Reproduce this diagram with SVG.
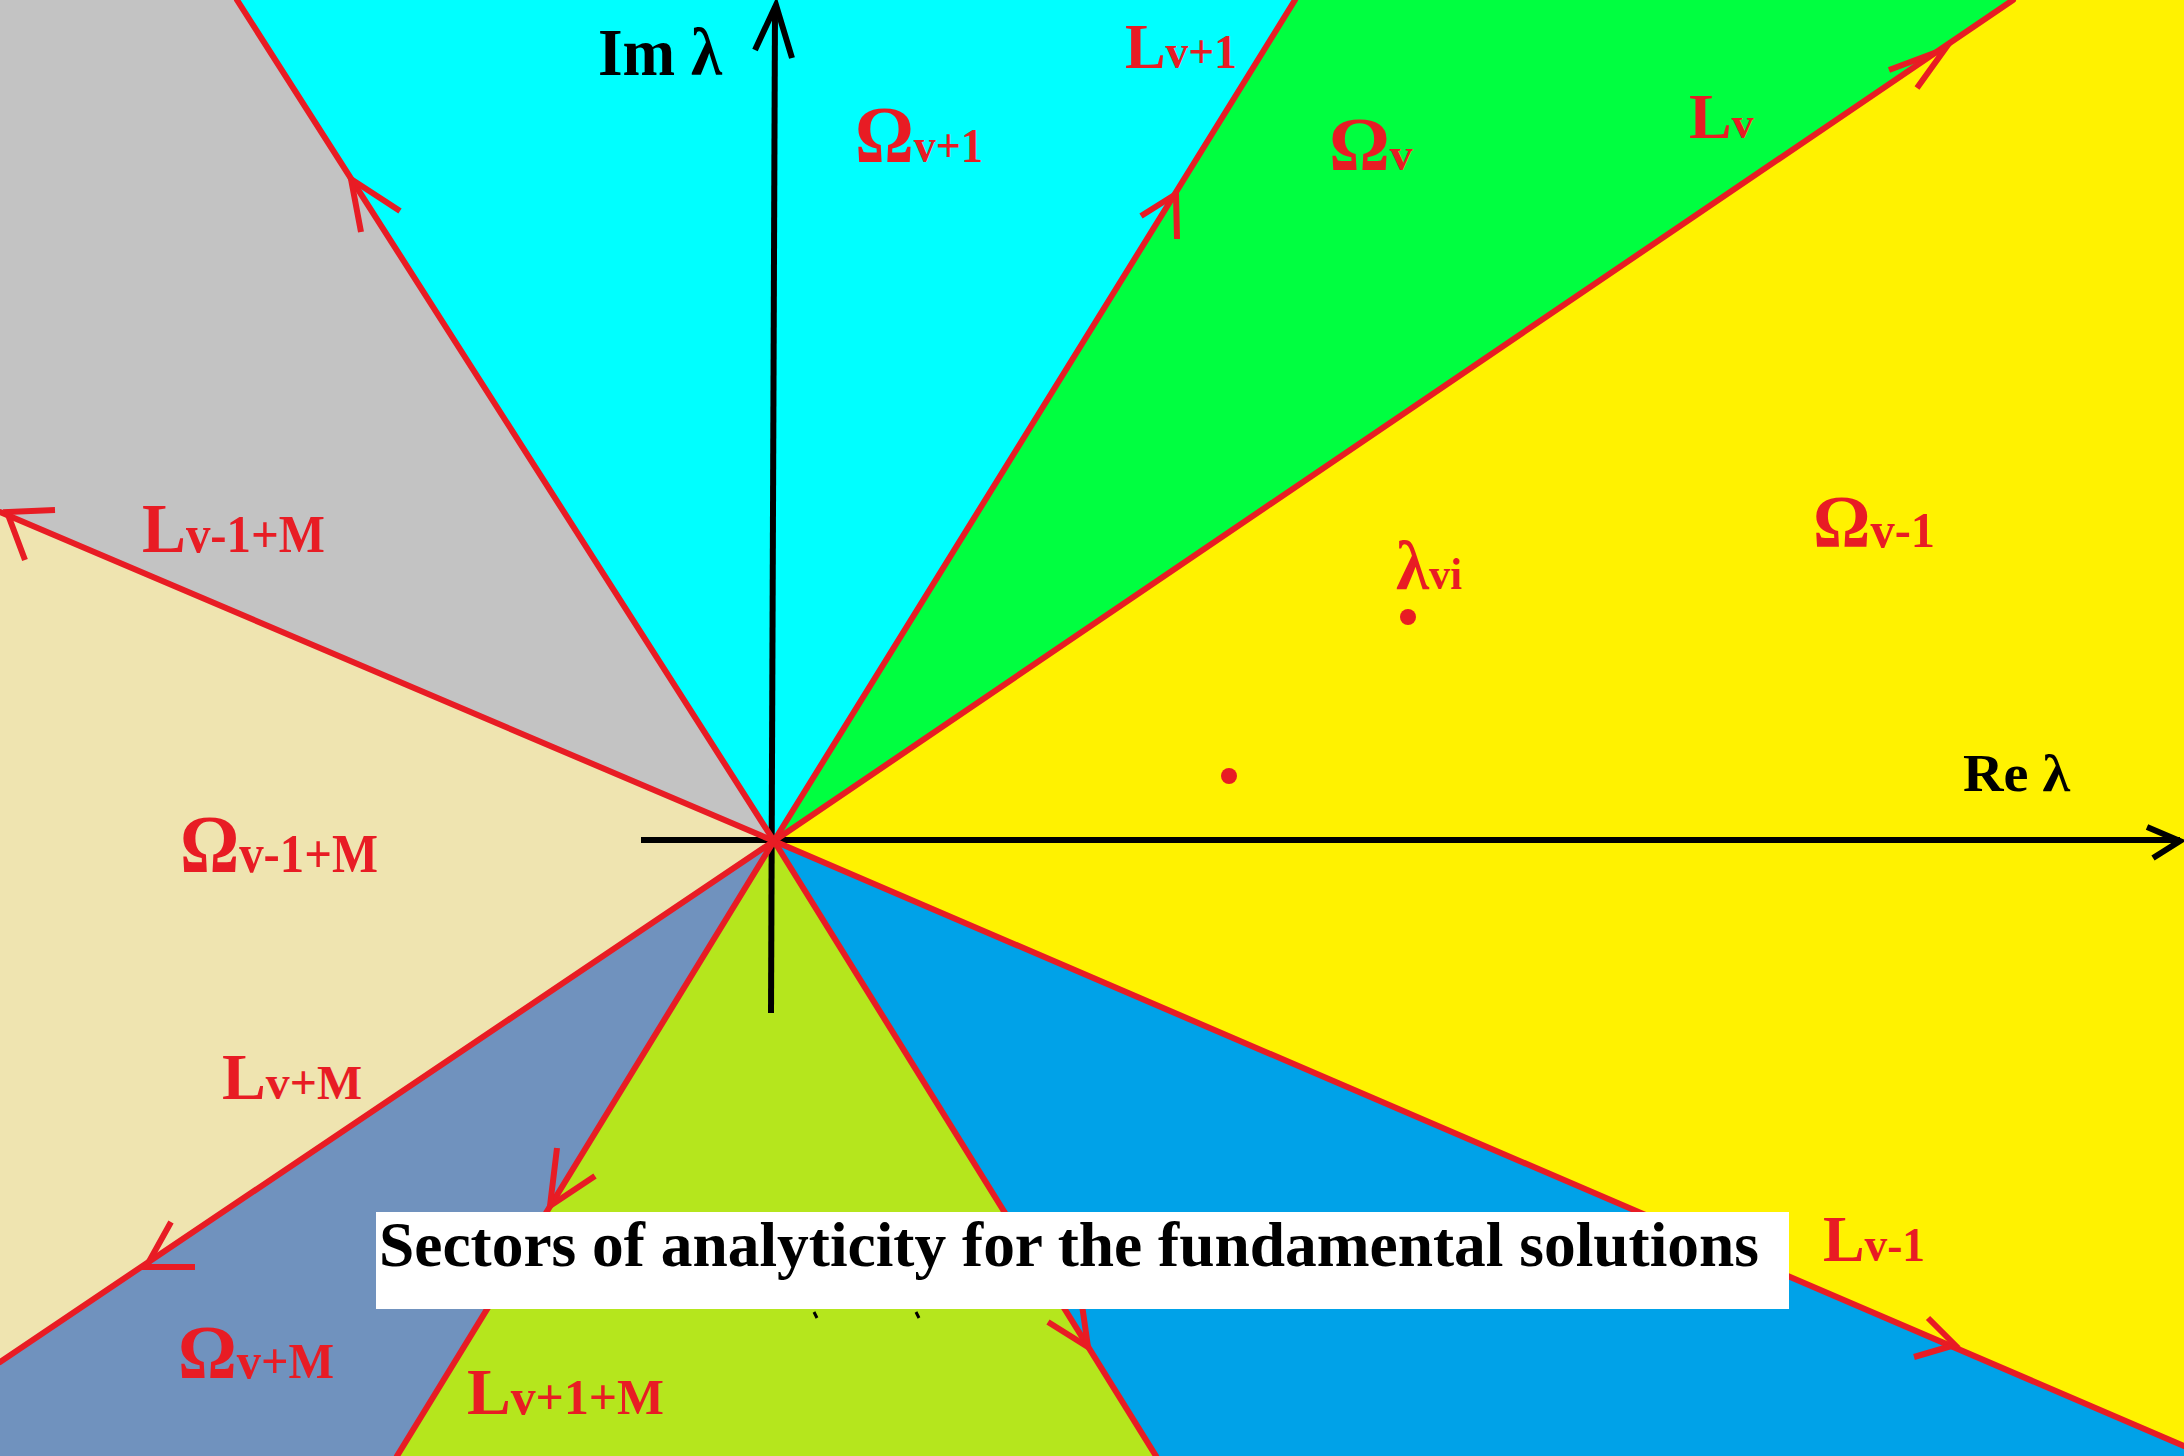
<svg xmlns="http://www.w3.org/2000/svg" width="2184" height="1456" viewBox="0 0 2184 1456">
<style>
.red{stroke:#E81C24;stroke-width:6;fill:none;stroke-linecap:round;stroke-linejoin:round}
.arr{stroke:#E81C24;stroke-width:6;fill:none;stroke-linecap:butt;stroke-linejoin:miter}
.axis{stroke:#000;stroke-width:6;fill:none;stroke-linejoin:miter}
.lbl{font-family:"Liberation Serif","Times New Roman",serif;font-weight:bold;fill:#E81C24}
.blk{font-family:"Liberation Serif","Times New Roman",serif;font-weight:bold;fill:#000}
</style>
<g id="sectors">
<polygon id="sector-gray" points="774,841 0,512 0,0 237,0" fill="#C3C3C3"/>
<polygon id="sector-cyan" points="774,841 237,0 1295,0" fill="#00FFFF"/>
<polygon id="sector-green" points="774,841 1295,0 2013,0" fill="#00FF40"/>
<polygon id="sector-yellow" points="774,841 2013,0 2184,0 2184,1446" fill="#FFF200"/>
<polygon id="sector-blue" points="774,841 2184,1446 2184,1456 1156,1456" fill="#00A2E8"/>
<polygon id="sector-lime" points="774,841 1156,1456 397,1456" fill="#B5E61D"/>
<polygon id="sector-grayblue" points="774,841 397,1456 0,1456 0,1362" fill="#7092BE"/>
<polygon id="sector-beige" points="774,841 0,1362 0,512" fill="#EFE4B0"/>
</g>
<g id="axes">
<line class="axis" x1="641" y1="840" x2="2180" y2="840"/>
<polyline class="axis" points="2147,827 2180,841 2153,858"/>
<line class="axis" x1="775" y1="6" x2="771" y2="1013"/>
<polyline class="axis" points="755,50 776,5 792,58"/>
</g>
<g id="connectors">
<line class="red" x1="774" y1="841" x2="0" y2="512"/>
<line class="red" x1="774" y1="841" x2="237" y2="0"/>
<line class="red" x1="774" y1="841" x2="1295" y2="0"/>
<line class="red" x1="774" y1="841" x2="2013" y2="0"/>
<line class="red" x1="774" y1="841" x2="2184" y2="1446"/>
<line class="red" x1="774" y1="841" x2="1156" y2="1456"/>
<line class="red" x1="774" y1="841" x2="397" y2="1456"/>
<line class="red" x1="774" y1="841" x2="0" y2="1362"/>
<polyline class="arr" points="55,510 7,512 25,560"/>
<polyline class="arr" points="400,211 351,179 361,232"/>
<polyline class="arr" points="1141,216 1176,194 1177,239"/>
<polyline class="arr" points="1889,70 1945,49 1917,88"/>
<polyline class="arr" points="1928,1318 1955,1345 1914,1357"/>
<polyline class="arr" points="1048,1322 1088,1347 1082,1305"/>
<polyline class="arr" points="557,1148 550,1206 595,1176"/>
<polyline class="arr" points="171,1222 146,1267 195,1267"/>
</g>
<g id="points">
<circle cx="1408" cy="617" r="8" fill="#E81C24"/>
<circle cx="1229" cy="776" r="8" fill="#E81C24"/>
</g>
<g id="axis-labels">
<text class="blk" x="598" y="75" font-size="68" textLength="124" lengthAdjust="spacingAndGlyphs">Im λ</text>
<text class="blk" x="1963" y="791" font-size="52" textLength="107" lengthAdjust="spacingAndGlyphs">Re λ</text>
</g>
<g id="labels">
<text id="omega-v1" class="lbl" x="855" y="162" textLength="128" lengthAdjust="spacingAndGlyphs"><tspan font-size="80">Ω</tspan><tspan font-size="48">v+1</tspan></text>
<text id="L-v1" class="lbl" x="1125" y="68" textLength="112" lengthAdjust="spacingAndGlyphs"><tspan font-size="64">L</tspan><tspan font-size="48">v+1</tspan></text>
<text id="omega-v" class="lbl" x="1329" y="170"><tspan font-size="76">Ω</tspan><tspan font-size="46">v</tspan></text>
<text id="L-v" class="lbl" x="1689" y="138"><tspan font-size="64">L</tspan><tspan font-size="44">v</tspan></text>
<text id="omega-vm1" class="lbl" x="1813" y="547" textLength="122" lengthAdjust="spacingAndGlyphs"><tspan font-size="74">Ω</tspan><tspan font-size="50">v-1</tspan></text>
<text id="lambda-vi" class="lbl" x="1396" y="589" textLength="66" lengthAdjust="spacingAndGlyphs"><tspan font-size="70">λ</tspan><tspan font-size="44">vi</tspan></text>
<text id="L-vm1M" class="lbl" x="142" y="552" textLength="183" lengthAdjust="spacingAndGlyphs"><tspan font-size="70">L</tspan><tspan font-size="52">v-1+M</tspan></text>
<text id="omega-vm1M" class="lbl" x="180" y="872" textLength="198" lengthAdjust="spacingAndGlyphs"><tspan font-size="82">Ω</tspan><tspan font-size="54">v-1+M</tspan></text>
<text id="L-vM" class="lbl" x="222" y="1099" textLength="140" lengthAdjust="spacingAndGlyphs"><tspan font-size="66">L</tspan><tspan font-size="48">v+M</tspan></text>
<text id="omega-vM" class="lbl" x="178" y="1378" textLength="156" lengthAdjust="spacingAndGlyphs"><tspan font-size="76">Ω</tspan><tspan font-size="50">v+M</tspan></text>
<text id="L-v1M" class="lbl" x="467" y="1414" textLength="197" lengthAdjust="spacingAndGlyphs"><tspan font-size="66">L</tspan><tspan font-size="50">v+1+M</tspan></text>
<text id="L-vm1" class="lbl" x="1823" y="1261" textLength="102" lengthAdjust="spacingAndGlyphs"><tspan font-size="66">L</tspan><tspan font-size="48">v-1</tspan></text>
</g>
<g id="caption">
<rect x="376" y="1212" width="1413" height="97" fill="#FFFFFF"/>
<text class="blk" x="379" y="1266" font-size="64" textLength="1380" lengthAdjust="spacingAndGlyphs">Sectors of analyticity for the fundamental solutions</text>
<path d="M814,1312 l3,6 M916,1312 l3,6" stroke="#000" stroke-width="3" fill="none"/>
</g>
</svg>
